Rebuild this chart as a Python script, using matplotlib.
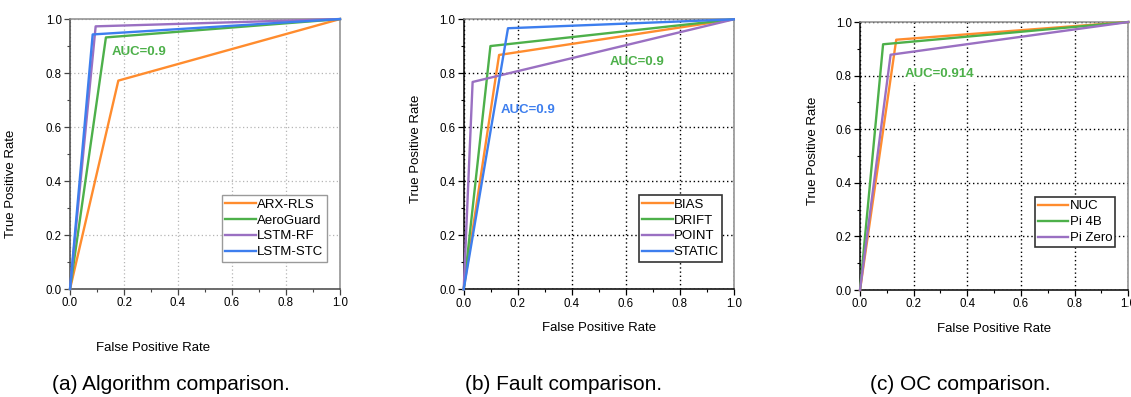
import matplotlib
matplotlib.use("Agg")
import matplotlib.pyplot as plt
from matplotlib.ticker import MultipleLocator

plt.rcParams['font.family'] = ['Liberation Sans', 'DejaVu Sans']

# ROC points (FPR, TPR)
alg_names = ['ARX-RLS', 'AeroGuard', 'LSTM-RF', 'LSTM-STC']
alg_fpr = [[0, 0.179, 1], [0, 0.133, 1], [0, 0.095, 1], [0, 0.084, 1]]
alg_tpr = [[0, 0.772, 1], [0, 0.932, 1], [0, 0.973, 1], [0, 0.943, 1]]

fault_names = ['BIAS', 'DRIFT', 'POINT', 'STATIC']
fault_fpr = [[0, 0.131, 1], [0, 0.099, 1], [0, 0.033, 1], [0, 0.164, 1]]
fault_tpr = [[0, 0.868, 1], [0, 0.901, 1], [0, 0.768, 1], [0, 0.967, 1]]

oc_names = ['NUC', 'Pi 4B', 'Pi Zero']
oc_fpr = [[0, 0.135, 1], [0, 0.086, 1], [0, 0.114, 1]]
oc_tpr = [[0, 0.934, 1], [0, 0.917, 1], [0, 0.878, 1]]

captions = ['(a) Algorithm comparison.', '(b) Fault comparison.', '(c) OC comparison.']
ticks = [0.0, 0.2, 0.4, 0.6, 0.8, 1.0]

ORANGE = '#FF8C2E'
GREEN = '#4DB04A'
PURPLE = '#9A70C2'
BLUE = '#3D7EEE'

fig = plt.figure(figsize=(11.31, 3.97), dpi=100)

ax_a = fig.add_axes([0.0619, 0.272, 0.2387, 0.680])
ax_b = fig.add_axes([0.410, 0.2713, 0.2387, 0.680])
ax_c = fig.add_axes([0.7604, 0.2695, 0.2372, 0.675])


def style_axes(ax, grid_color, grid_lw, spine_color):
    ax.set_xlim(0, 1)
    ax.set_ylim(0, 1)
    ax.set_xticks(ticks)
    ax.set_yticks(ticks)
    ax.set_xticklabels(['%.1f' % t for t in ticks], fontsize=8.3)
    ax.set_yticklabels(['%.1f' % t for t in ticks], fontsize=8.3)
    ax.xaxis.set_minor_locator(MultipleLocator(0.1))
    ax.yaxis.set_minor_locator(MultipleLocator(0.1))
    ax.tick_params(which='major', direction='out', length=4, width=0.9, color=spine_color, pad=2)
    ax.tick_params(which='minor', direction='out', length=2, width=0.8, color=spine_color)
    for s in ['left', 'bottom']:
        ax.spines[s].set_color(spine_color)
        ax.spines[s].set_linewidth(1.1)
    for s in ['top', 'right']:
        ax.spines[s].set_color('#8c8c8c')
        ax.spines[s].set_linewidth(1.1)
    ax.grid(True, which='major', linestyle=(0, (1, 2)), color=grid_color, linewidth=grid_lw)
    ax.set_axisbelow(True)


def draw_curves(ax, names, fprs, tprs, colors):
    for name, x, y, c in zip(names, fprs, tprs, colors):
        ax.plot(x, y, color=c, lw=1.7, label=name, clip_on=False, zorder=3)


def add_legend(ax, anchor, edge, lw):
    leg = ax.legend(loc='upper left', bbox_to_anchor=anchor, fontsize=9.5,
                    handlelength=2.3, handletextpad=0.1, labelspacing=0.28,
                    borderpad=0.25, borderaxespad=0, fancybox=False, framealpha=1)
    leg.get_frame().set_edgecolor(edge)
    leg.get_frame().set_linewidth(lw)


# (a)
style_axes(ax_a, '#b5b5b5', 0.9, '#444444')
draw_curves(ax_a, alg_names, alg_fpr, alg_tpr, [ORANGE, GREEN, PURPLE, BLUE])
ax_a.text(0.156, 0.877, 'AUC=0.9', color=GREEN, fontsize=9.5, fontweight='bold',
          ha='left', va='center', zorder=4)
add_legend(ax_a, (0.563, 0.348), '#9a9a9a', 1.0)
ax_a.set_xlabel('False Positive Rate', fontsize=9.5)
ax_a.set_ylabel('True Positive Rate', fontsize=9.5)
ax_a.xaxis.set_label_coords(0.307, -0.196)
ax_a.yaxis.set_label_coords(-0.197, 0.39)

# (b)
style_axes(ax_b, 'black', 1.0, 'black')
draw_curves(ax_b, fault_names, fault_fpr, fault_tpr, [ORANGE, GREEN, PURPLE, BLUE])
ax_b.text(0.539, 0.841, 'AUC=0.9', color=GREEN, fontsize=9.5, fontweight='bold',
          ha='left', va='center', zorder=4)
ax_b.text(0.138, 0.664, 'AUC=0.9', color=BLUE, fontsize=9.5, fontweight='bold',
          ha='left', va='center', zorder=4)
add_legend(ax_b, (0.649, 0.349), '#333333', 1.2)
ax_b.set_xlabel('False Positive Rate', fontsize=9.5)
ax_b.set_ylabel('True Positive Rate', fontsize=9.5)
ax_b.xaxis.set_label_coords(0.5, -0.121)
ax_b.yaxis.set_label_coords(-0.154, 0.52)

# (c)
style_axes(ax_c, 'black', 1.0, 'black')
draw_curves(ax_c, oc_names, oc_fpr, oc_tpr, [ORANGE, GREEN, PURPLE])
ax_c.text(0.168, 0.805, 'AUC=0.914', color=GREEN, fontsize=9.5, fontweight='bold',
          ha='left', va='center', zorder=4,
          bbox=dict(facecolor='white', edgecolor='none', pad=1))
add_legend(ax_c, (0.651, 0.348), '#333333', 1.2)
ax_c.set_xlabel('False Positive Rate', fontsize=9.5)
ax_c.set_ylabel('True Positive Rate', fontsize=9.5)
ax_c.xaxis.set_label_coords(0.5, -0.122)
ax_c.yaxis.set_label_coords(-0.153, 0.52)

# sub-captions under each panel
for xc, cap in zip([171, 564, 960], captions):
    fig.text(xc / 1131, 1 - 385 / 397, cap, fontsize=15, ha='center', va='center')

fig.savefig('out.png', dpi=100)
